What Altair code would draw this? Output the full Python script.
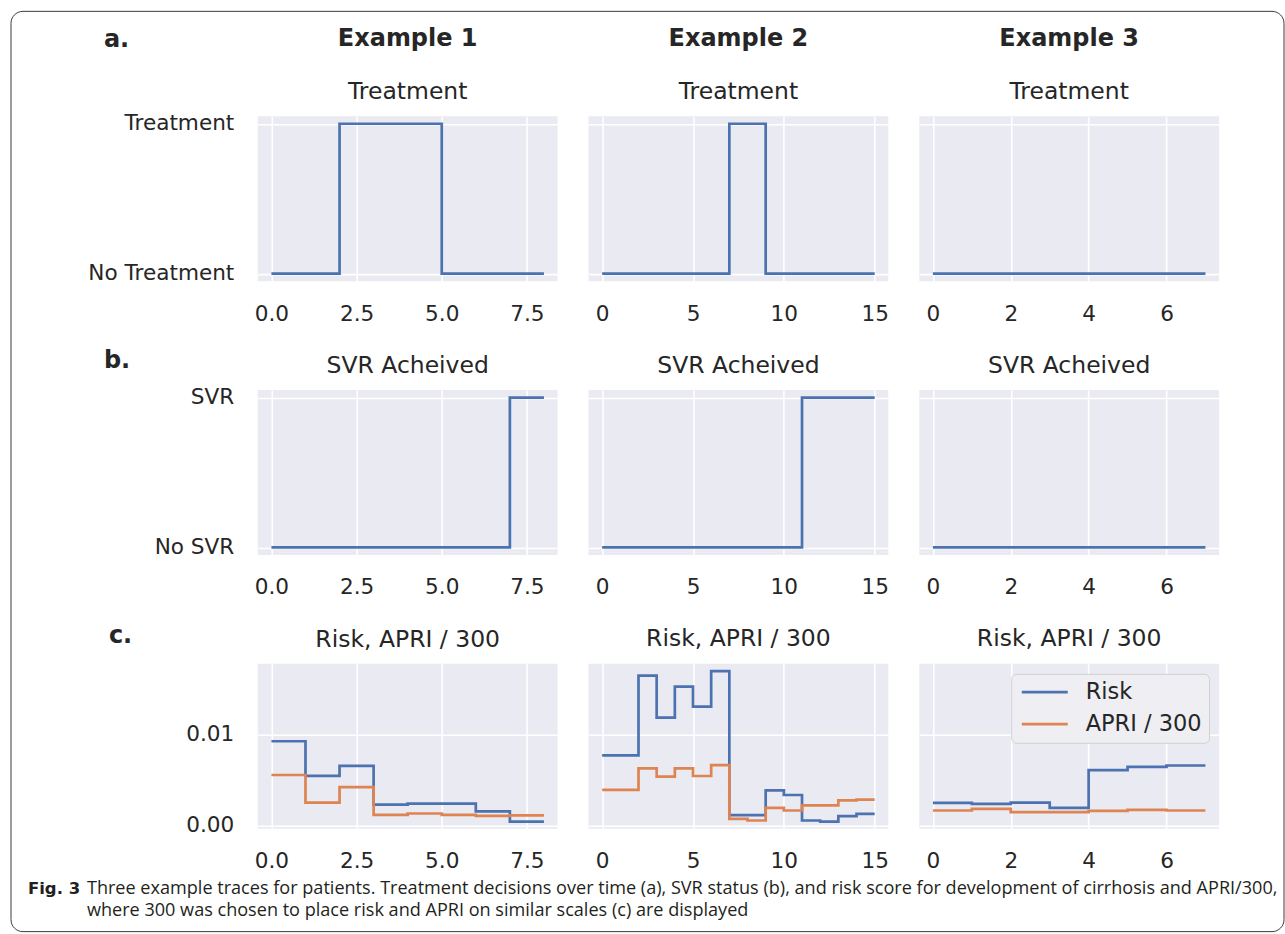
import altair as alt
import pandas as pd

# ---------------- data ----------------
t1 = [0, 1, 2, 3, 4, 5, 6, 7, 8]
t2 = list(range(16))
t3 = [0, 1, 2, 3, 4, 5, 6, 7]

treat1 = [0, 0, 1, 1, 1, 0, 0, 0, 0]
treat2 = [0, 0, 0, 0, 0, 0, 0, 1, 1, 0, 0, 0, 0, 0, 0, 0]
treat3 = [0, 0, 0, 0, 0, 0, 0, 0]

svr1 = [0, 0, 0, 0, 0, 0, 0, 1, 1]
svr2 = [0, 0, 0, 0, 0, 0, 0, 0, 0, 0, 0, 1, 1, 1, 1, 1]
svr3 = [0, 0, 0, 0, 0, 0, 0, 0]

risk1 = [0.0093, 0.0055, 0.0066, 0.00235, 0.00245, 0.00245, 0.0016, 0.00047, 0.00047]
apri1 = [0.0056, 0.00256, 0.00426, 0.00123, 0.00137, 0.00123, 0.00110, 0.00116, 0.00116]
risk2 = [0.00776, 0.00776, 0.0165, 0.0119, 0.0153, 0.0131, 0.0170, 0.00119,
         0.00119, 0.0039, 0.0034, 0.0006, 0.00047, 0.00108, 0.00134, 0.00134]
apri2 = [0.00397, 0.00397, 0.00632, 0.00542, 0.00632, 0.00549, 0.00668, 0.00079,
         0.0006, 0.00199, 0.0017, 0.00227, 0.00227, 0.00282, 0.00289, 0.00289]
risk3 = [0.00253, 0.00242, 0.00256, 0.00199, 0.00614, 0.0065, 0.00664, 0.00664]
apri3 = [0.0017, 0.00188, 0.00152, 0.00152, 0.00166, 0.00177, 0.0017, 0.0017]

examples = ["Example 1", "Example 2", "Example 3"]
row_titles = ["Treatment", "SVR Acheived", "Risk, APRI / 300"]
row_letters = ["a.", "b.", "c."]
series_names = ["Risk", "APRI / 300"]
x_ticks = [[0, 2.5, 5, 7.5], [0, 5, 10, 15], [0, 2, 4, 6]]
x_formats = [".1f", "d", "d"]
x_max = [8, 15, 7]
treat_labels = ["No Treatment", "Treatment"]
svr_labels = ["No SVR", "SVR"]
risk_ticks = [0, 0.01]

caption_bold = "Fig. 3"
caption_text = ("Three example traces for patients. Treatment decisions over time (a), SVR status (b), "
                "and risk score for development of cirrhosis and APRI/300,\n"
                "where 300 was chosen to place risk and APRI on similar scales (c) are displayed")

# ---------------- style ----------------
BLUE = "#4C72B0"
ORANGE = "#DD8452"
BG = "#EAEAF2"
TXT = "#262626"
FONT = "DejaVu Sans"
CAP_FONT = "Open Sans"
W, H = 300, 165
TICK_FS = 21.6
TITLE_FS = 23.5
LW = 2.7


def x_enc(i):
    tmax = x_max[i]
    return alt.X(
        "t:Q",
        scale=alt.Scale(domain=[-0.05 * tmax, 1.05 * tmax], nice=False, zero=False),
        axis=alt.Axis(values=x_ticks[i], format=x_formats[i], title=None, grid=True,
                      gridColor="white", gridWidth=1.6, domain=False, ticks=False,
                      labelFontSize=TICK_FS, labelPadding=22, labelColor=TXT, labelFont=FONT,
                      labelFlush=False),
    )


def y_axis(col, values, label_expr=None, fmt=None):
    kw = dict(values=values, title=None, grid=True, gridColor="white", gridWidth=1.6,
              domain=False, ticks=False)
    if col == 0:
        kw.update(labelFontSize=TICK_FS, labelPadding=24, labelColor=TXT, labelFont=FONT)
        if label_expr:
            kw["labelExpr"] = label_expr
        if fmt:
            kw["format"] = fmt
    else:
        kw.update(labels=False)
    return alt.Axis(**kw)


def title_for(row, col):
    off = 9 if col == 0 else 13
    if row == 0:
        return alt.TitleParams(examples[col], subtitle=row_titles[row], fontSize=24,
                               fontWeight="bold", font=FONT, color=TXT,
                               subtitleFont=FONT, subtitleFontSize=TITLE_FS,
                               subtitleColor=TXT, subtitlePadding=29, offset=off,
                               anchor="middle", frame="group")
    return alt.TitleParams(row_titles[row], fontSize=TITLE_FS, font=FONT, color=TXT,
                           fontWeight="normal", offset=off, anchor="middle", frame="group")


times = [t1, t2, t3]
treats = [treat1, treat2, treat3]
svrs = [svr1, svr2, svr3]
risks = [risk1, risk2, risk3]
apris = [apri1, apri2, apri3]

one = pd.DataFrame({"a": [0]})


def decorations():
    """Figure frame, panel letters, caption and this panel's title (host = row c, col 1)."""
    layers = []
    layers.append(alt.Chart(one).mark_rect(filled=False, color="#3a3a3a", strokeWidth=1,
                                           cornerRadius=12).encode(
        x=alt.value(-247), x2=alt.value(1027), y=alt.value(-653), y2=alt.value(268)))
    letter_pos = [(-154, -617), (-154, -296), (-149, -21)]
    for lab, (lx, ly) in zip(row_letters, letter_pos):
        layers.append(alt.Chart(one).mark_text(font=FONT, fontSize=24, fontWeight="bold",
                                               color=TXT, align="left", baseline="alphabetic").encode(
            text=alt.value(lab), x=alt.value(lx), y=alt.value(ly)))
    layers.append(alt.Chart(one).mark_text(font=FONT, fontSize=TITLE_FS, color=TXT,
                                           align="center", baseline="alphabetic").encode(
        text=alt.value(row_titles[2]), x=alt.value(W / 2), y=alt.value(-17)))
    layers.append(alt.Chart(one).mark_text(font=FONT, fontSize=16.5, fontWeight="bold",
                                           color="#231F20", align="left", baseline="alphabetic").encode(
        text=alt.value(caption_bold), x=alt.value(-230), y=alt.value(230)))
    layers.append(alt.Chart(one).mark_text(font=CAP_FONT, fontSize=18.1,
                                           color="#231F20", align="left", baseline="alphabetic",
                                           lineBreak="\n", lineHeight=22).encode(
        text=alt.value(caption_text), x=alt.value(-171), y=alt.value(230)))
    return layers


panels = []
# rows a, b
for r, (vals, labs) in enumerate([(treats, treat_labels), (svrs, svr_labels)]):
    for c in range(3):
        df = pd.DataFrame({"t": times[c], "v": vals[c]})
        expr = f"datum.value == 1 ? '{labs[1]}' : '{labs[0]}'"
        line = alt.Chart(df).mark_line(interpolate="step-after", strokeWidth=LW, color=BLUE).encode(
            x=x_enc(c),
            y=alt.Y("v:Q", scale=alt.Scale(domain=[-0.05, 1.05], nice=False, zero=False),
                    axis=y_axis(c, [0, 1], label_expr=expr)),
        ).properties(width=W, height=H, title=title_for(r, c))
        panels.append(line)

# row c
for c in range(3):
    df = pd.DataFrame({
        "t": times[c] + times[c],
        "v": risks[c] + apris[c],
        "s": [series_names[0]] * len(times[c]) + [series_names[1]] * len(times[c]),
    })
    if c == 2:
        legend = alt.Legend(title=None, orient="top-right", offset=10,
                            symbolType="M-1,0L5,0", symbolStrokeWidth=LW, symbolSize=235,
                            labelFontSize=22.5, labelFont=FONT, labelColor=TXT,
                            labelOffset=45, rowPadding=9, padding=7,
                            fillColor="#EEEEF3", strokeColor="#CFCFD4", cornerRadius=5)
    else:
        legend = None
    line = alt.Chart(df).mark_line(interpolate="step-after", strokeWidth=LW).encode(
        x=x_enc(c),
        y=alt.Y("v:Q", scale=alt.Scale(domain=[-0.0003, 0.0178], nice=False, zero=False),
                axis=y_axis(c, risk_ticks, fmt=".2f")),
        color=alt.Color("s:N", scale=alt.Scale(domain=series_names, range=[BLUE, ORANGE]),
                        legend=legend, sort=series_names),
        detail="s:N",
    )
    if c == 0:
        ch = alt.layer(line, *decorations()).properties(width=W, height=H)
    else:
        ch = line.properties(width=W, height=H, title=title_for(2, c))
    panels.append(ch)

chart = alt.concat(
    *panels, columns=3, bounds="flush", spacing={"row": 109, "column": 31}
).resolve_scale(color="independent").resolve_legend(color="independent").properties(
    padding={"left": 10, "top": 10, "right": 0, "bottom": 0},
    background="white",
).configure_view(fill=BG, stroke=None)

chart.save("out.html", embed_options={"renderer": "svg", "actions": False})
